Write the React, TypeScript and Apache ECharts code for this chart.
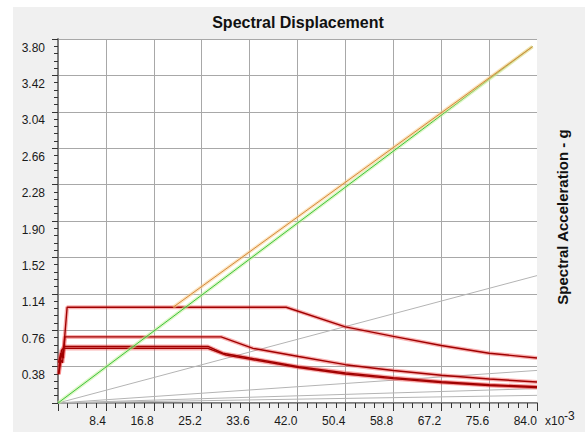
import React, { useEffect, useRef } from "react";
import * as echarts from "echarts";

// Axis ranges (spectral displacement in x10^-3, spectral acceleration in g)
const X_MIN = 0;
const X_MAX = 84;
const X_STEP = 8.4;
const Y_MIN = 0;
const Y_MAX = 3.8;
const Y_STEP = 0.38;

const TITLE = "Spectral Displacement";
const Y_NAME = "Spectral Acceleration - g";
const X_EXP_BASE = "x10";
const X_EXP_POWER = "-3";

// Constant-period radial lines (light gray)
const periodLine1: [number, number][] = [[0, 0], [84, 1.33]];
const periodLine2: [number, number][] = [[0, 0], [84, 0.34]];
const periodLine3: [number, number][] = [[0, 0], [84, 0.15]];
const periodLine4: [number, number][] = [[0, 0], [84, 0.08]];

// Response spectra (red)
const spectrumA: [number, number][] = [
  [0.15, 0.3], [0.5, 0.45], [0.8, 0.42], [1.6, 1.0], [40.0, 1.0],
  [50.4, 0.795], [58.8, 0.695], [67.2, 0.6], [75.6, 0.52], [84.0, 0.47],
];
const spectrumB: [number, number][] = [
  [0.2, 0.38], [0.6, 0.5], [0.9, 0.47], [1.2, 0.69], [28.6, 0.69],
  [34.2, 0.57], [42.2, 0.485], [50.4, 0.4], [58.8, 0.34], [67.2, 0.29],
  [75.6, 0.25], [84.0, 0.22],
];
const spectrumC: [number, number][] = [
  [0.1, 0.42], [0.5, 0.52], [0.75, 0.49], [1.0, 0.59], [26.3, 0.59],
  [28.9, 0.52], [33.6, 0.47], [42.2, 0.38], [50.4, 0.315], [58.8, 0.265],
  [67.2, 0.222], [75.6, 0.19], [84.0, 0.17],
];
const spectrumD: [number, number][] = [
  [0.1, 0.3], [0.6, 0.55], [1.0, 0.57], [26.3, 0.57], [29.5, 0.5],
  [33.6, 0.458], [42.2, 0.37], [50.4, 0.303], [58.8, 0.254], [67.2, 0.213],
  [75.6, 0.182], [84.0, 0.162],
];

// Capacity curves
const capacityGreen: [number, number][] = [[0, 0], [83.2, 3.72]];
const capacityOrange: [number, number][] = [[20.2, 1.0], [83.2, 3.72]];

const FONT = "'Liberation Sans', Arial, sans-serif";

function glowLine(
  data: [number, number][],
  core: string,
  halo: string,
  coreWidth: number,
  haloWidth: number,
  z: number
) {
  const base = {
    type: "line" as const,
    data,
    showSymbol: false,
    silent: true,
    xAxisIndex: 0,
    yAxisIndex: 0,
  };
  return [
    { ...base, z, lineStyle: { color: halo, width: haloWidth } },
    { ...base, z: z + 1, lineStyle: { color: core, width: coreWidth } },
  ];
}

function plainLine(data: [number, number][], color: string, width: number, z: number) {
  return {
    type: "line" as const,
    data,
    showSymbol: false,
    silent: true,
    z,
    xAxisIndex: 0,
    yAxisIndex: 0,
    lineStyle: { color, width },
  };
}

export default function App() {
  const ref = useRef<HTMLDivElement>(null);

  useEffect(() => {
    document.body.style.margin = "0";
    const chart = echarts.init(ref.current!, null, { renderer: "svg" });

    const redCore = "#a00000";
    const redHalo = "rgba(240,70,70,0.42)";

    chart.setOption({
      animation: false,
      backgroundColor: "transparent",
      grid: {
        left: 58,
        top: 39,
        width: 479,
        height: 364,
        show: true,
        backgroundColor: "#ffffff",
        borderWidth: 0,
      },
      xAxis: [
        {
          type: "value",
          min: X_MIN,
          max: X_MAX,
          interval: X_STEP,
          position: "bottom",
          offset: 2,
          axisLine: { show: false },
          axisTick: { show: true, length: 8, lineStyle: { color: "#333", width: 1 } },
          minorTick: { show: true, splitNumber: 5, length: 5, lineStyle: { color: "#333", width: 1 } },
          splitLine: {
            show: true,
            showMinLine: false,
            showMaxLine: false,
            lineStyle: { color: "#a8a8a8", width: 1 },
          },
          minorSplitLine: { show: false },
          axisLabel: {
            show: true,
            margin: 10,
            align: "right",
            fontFamily: FONT,
            fontSize: 12,
            color: "#1a1a1a",
            formatter: (v: number) => (v === 0 ? "" : v.toFixed(1)),
          },
        },
        {
          type: "value",
          min: X_MIN,
          max: X_MAX,
          position: "top",
          axisLine: { show: true, lineStyle: { color: "#7c7c7c", width: 2 } },
          axisTick: { show: false },
          axisLabel: { show: false },
          splitLine: { show: false },
        },
        {
          type: "value",
          min: X_MIN,
          max: X_MAX,
          position: "bottom",
          offset: 0,
          axisLine: { show: true, lineStyle: { color: "#9a9a9a", width: 1 } },
          axisTick: { show: false },
          axisLabel: { show: false },
          splitLine: { show: false },
        },
      ],
      yAxis: [
        {
          type: "value",
          min: Y_MIN,
          max: Y_MAX,
          interval: Y_STEP,
          position: "left",
          offset: 3,
          axisLine: { show: false },
          axisTick: { show: true, length: 6, lineStyle: { color: "#333", width: 1 } },
          minorTick: { show: true, splitNumber: 5, length: 4, lineStyle: { color: "#333", width: 1 } },
          splitLine: { show: true, lineStyle: { color: "#a8a8a8", width: 1 } },
          axisLabel: {
            show: true,
            margin: 10,
            fontFamily: FONT,
            fontSize: 12,
            color: "#1a1a1a",
            verticalAlign: "top",
            lineHeight: 17,
            formatter: (v: number) => (v === 0 ? "" : v.toFixed(2)),
          },
        },
        {
          type: "value",
          min: Y_MIN,
          max: Y_MAX,
          position: "left",
          offset: 0,
          axisLine: { show: true, lineStyle: { color: "#7c7c7c", width: 2 } },
          axisTick: { show: false },
          axisLabel: { show: false },
          splitLine: { show: false },
        },
      ],
      series: [
        plainLine(periodLine1, "#b4b4b4", 1, 3),
        plainLine(periodLine2, "#b4b4b4", 1, 3),
        plainLine(periodLine3, "#b4b4b4", 1, 3),
        plainLine(periodLine4, "#b4b4b4", 1, 3),
        ...glowLine(spectrumD, redCore, redHalo, 1.4, 4, 4),
        ...glowLine(spectrumC, redCore, redHalo, 1.4, 4, 4),
        ...glowLine(spectrumB, redCore, redHalo, 1.4, 4, 4),
        ...glowLine(spectrumA, redCore, redHalo, 1.4, 4, 4),
        ...glowLine(capacityGreen, "#3cc43c", "rgba(195,238,150,0.55)", 1, 3.5, 6),
        ...glowLine(capacityOrange, "#d4883a", "rgba(250,205,140,0.55)", 1, 3.5, 8),
      ],
      graphic: [
        {
          type: "text",
          x: 298,
          y: 22,
          style: {
            text: TITLE,
            fontFamily: FONT,
            fontWeight: "bold",
            fontSize: 16,
            fill: "#111",
            align: "center",
            verticalAlign: "middle",
          },
        },
        {
          type: "text",
          x: 562,
          y: 217,
          rotation: Math.PI / 2,
          style: {
            text: Y_NAME,
            fontFamily: FONT,
            fontWeight: "bold",
            fontSize: 15,
            fill: "#111",
            align: "center",
            verticalAlign: "middle",
          },
        },
        {
          type: "text",
          x: 545,
          y: 421,
          style: {
            text: X_EXP_BASE,
            fontFamily: FONT,
            fontSize: 12,
            fill: "#1a1a1a",
            align: "left",
            verticalAlign: "middle",
          },
        },
        {
          type: "text",
          x: 564,
          y: 416,
          style: {
            text: X_EXP_POWER,
            fontFamily: FONT,
            fontSize: 12,
            fill: "#1a1a1a",
            align: "left",
            verticalAlign: "middle",
          },
        },
      ],
    });

    return () => chart.dispose();
  }, []);

  return (
    <div style={{ position: "fixed", left: 0, top: 0, width: 585, height: 432, background: "#ffffff", overflow: "hidden" }}>
      <div style={{ position: "absolute", left: 13, top: 7, right: 0, bottom: 0, background: "#f0f0f0" }} />
      <div ref={ref} style={{ position: "absolute", left: 0, top: 0, width: 585, height: 432 }} />
    </div>
  );
}
